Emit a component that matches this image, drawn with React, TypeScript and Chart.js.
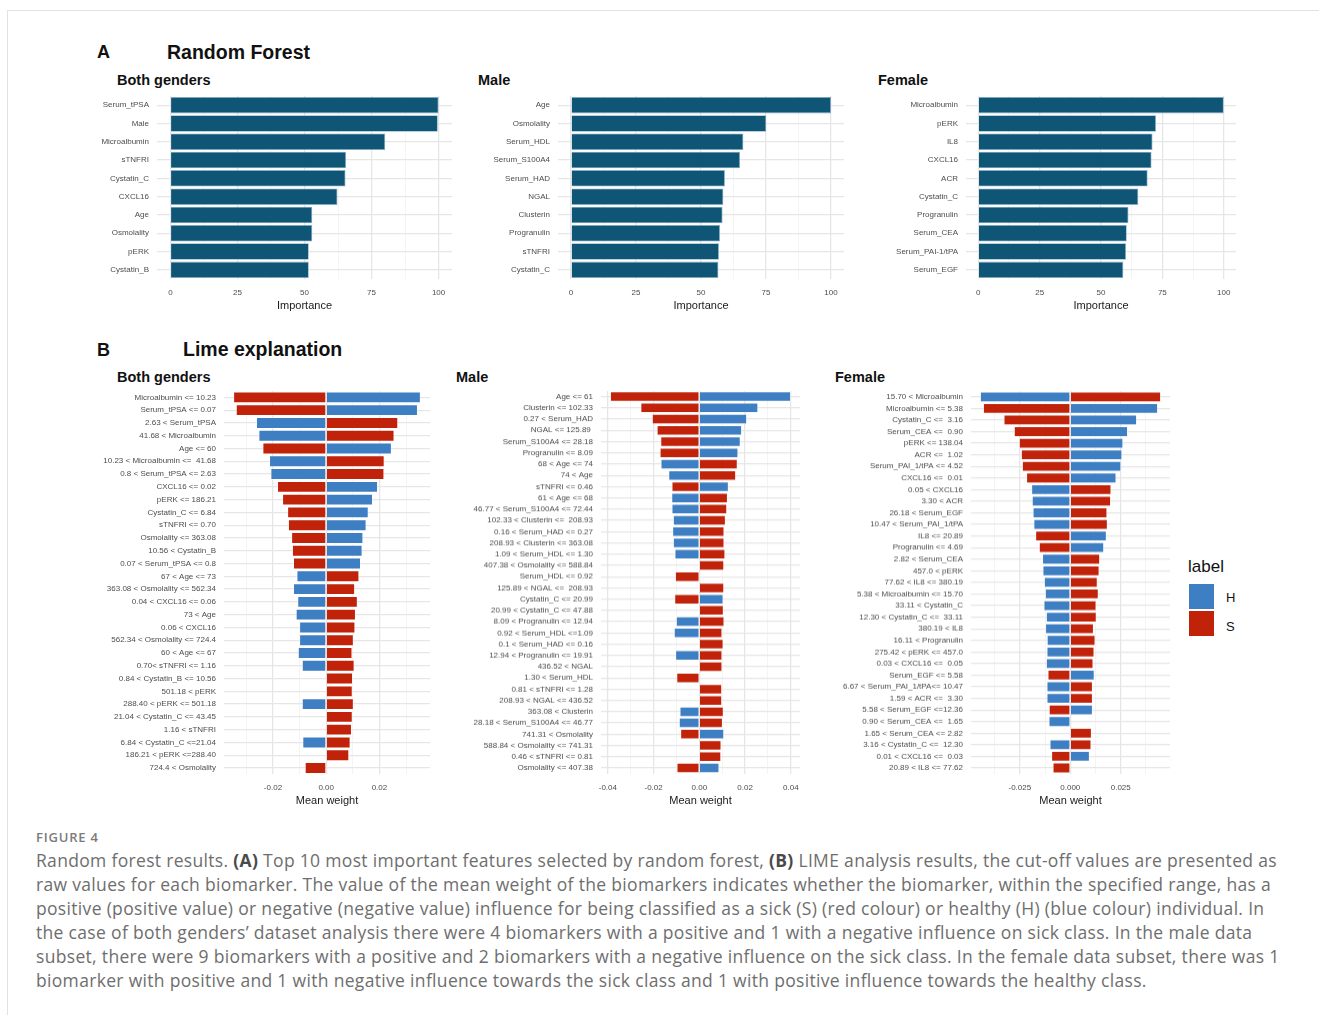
import React, { useEffect, useRef } from "react";
import { Chart, registerables } from "chart.js";

Chart.register(...registerables);

// ---------------- DATA ----------------
// Panel A: Random forest importance
const rfBothFeatures = ["Serum_tPSA", "Male", "Microalbumin", "sTNFRI", "Cystatin_C", "CXCL16", "Age", "Osmolality", "pERK", "Cystatin_B"];
const rfBothImportance = [100, 99.7, 80.1, 65.5, 65.3, 62.3, 52.9, 52.9, 51.6, 51.6];

const rfMaleFeatures = ["Age", "Osmolality", "Serum_HDL", "Serum_S100A4", "Serum_HAD", "NGAL", "Clusterin", "Progranulin", "sTNFRI", "Cystatin_C"];
const rfMaleImportance = [100, 75.1, 66.3, 65.0, 59.2, 58.6, 58.3, 57.3, 56.9, 56.7];

const rfFemaleFeatures = ["Microalbumin", "pERK", "IL8", "CXCL16", "ACR", "Cystatin_C", "Progranulin", "Serum_CEA", "Serum_PAI-1/tPA", "Serum_EGF"];
const rfFemaleImportance = [100, 72.4, 71.0, 70.6, 69.0, 65.2, 61.2, 60.5, 60.2, 59.1];

const rfMajorTicks = [0, 25, 50, 75, 100];
const rfMinorTicks = [12.5, 37.5, 62.5, 87.5];

// Panel B: LIME mean weights (H = healthy, S = sick)
const limeBothFeatures = [
  "Microalbumin <= 10.23", "Serum_tPSA <= 0.07", "2.63 < Serum_tPSA", "41.68 < Microalbumin", "Age <= 60",
  "10.23 < Microalbumin <=  41.68", "0.8 < Serum_tPSA <= 2.63", "CXCL16 <= 0.02", "pERK <= 186.21", "Cystatin_C <= 6.84",
  "sTNFRI <= 0.70", "Osmolality <= 363.08", "10.56 < Cystatin_B", "0.07 < Serum_tPSA <= 0.8", "67 < Age <= 73",
  "363.08 < Osmolality <= 562.34", "0.04 < CXCL16 <= 0.06", "73 < Age", "0.06 < CXCL16", "562.34 < Osmolality <= 724.4",
  "60 < Age <= 67", "0.70< sTNFRI <= 1.16", "0.84 < Cystatin_B <= 10.56", "501.18 < pERK", "288.40 < pERK <= 501.18",
  "21.04 < Cystatin_C <= 43.45", "1.16 < sTNFRI", "6.84 < Cystatin_C <=21.04", "186.21 < pERK <=288.40", "724.4 < Osmolality",
];
const limeBothH = [
  0.0355, 0.0344, -0.0263, -0.0254, 0.0246, -0.0214, -0.0209, 0.0194, 0.0175, 0.0159,
  0.0151, 0.0139, 0.0136, 0.013, -0.0111, -0.0124, -0.0108, -0.0114, -0.0101, -0.0101,
  -0.0106, -0.0091, null, null, -0.0091, null, null, -0.0089, null, null,
];
const limeBothS = [
  -0.0349, -0.0339, 0.027, 0.0256, -0.0239, 0.0219, 0.0218, -0.0184, -0.0165, -0.0146,
  -0.0143, -0.0131, -0.0128, -0.0124, 0.0124, 0.0108, 0.0118, 0.0111, 0.0109, 0.0103,
  0.0098, 0.0106, 0.01, 0.0099, 0.0103, 0.0099, 0.0096, 0.0091, 0.0086, -0.008,
];

const limeMaleFeatures = [
  "Age <= 61", "Clusterin <= 102.33", "0.27 < Serum_HAD", "NGAL <= 125.89 ", "Serum_S100A4 <= 28.18",
  "Progranulin <= 8.09", "68 < Age <= 74", "74 < Age", "sTNFRI <= 0.46", "61 < Age <= 68",
  "46.77 < Serum_S100A4 <= 72.44", "102.33 < Clusterin <=  208.93", "0.16 < Serum_HAD <= 0.27", "208.93 < Clusterin <= 363.08", "1.09 < Serum_HDL <= 1.30",
  "407.38 < Osmolality <= 588.84", "Serum_HDL <= 0.92", "125.89 < NGAL <=  208.93", "Cystatin_C <= 20.99", "20.99 < Cystatin_C <= 47.88",
  "8.09 < Progranulin <= 12.94", "0.92 < Serum_HDL <=1.09", "0.1 < Serum_HAD <= 0.16", "12.94 < Progranulin <= 19.91", "436.52 < NGAL",
  "1.30 < Serum_HDL", "0.81 < sTNFRI <= 1.28", "208.93 < NGAL <= 436.52", "363.08 < Clusterin", "28.18 < Serum_S100A4 <= 46.77",
  "741.31 < Osmolality", "588.84 < Osmolality <= 741.31", "0.46 < sTNFRI <= 0.81", "Osmolality <= 407.38",
];
const limeMaleH = [
  0.04, 0.0257, 0.0208, 0.0186, 0.018, 0.017, -0.0169, -0.0135, 0.0128, -0.0122,
  -0.0121, -0.0115, -0.0118, -0.0115, -0.0108, null, null, null, 0.0105, null,
  -0.0102, -0.0111, null, -0.0105, null, null, null, null, -0.0086, -0.0089,
  0.0108, null, null, 0.0087,
];
const limeMaleS = [
  -0.039, -0.0257, -0.0207, -0.0186, -0.017, -0.0173, 0.0167, 0.016, -0.0121, 0.0124,
  0.0121, 0.0115, 0.0109, 0.0109, 0.0113, 0.0108, -0.0106, 0.0108, -0.0109, 0.0106,
  0.0109, 0.01, 0.0105, 0.01, 0.01, -0.01, 0.0099, 0.0099, 0.0106, 0.0102,
  -0.0083, 0.0096, 0.0095, -0.0099,
];

const limeFemaleFeatures = [
  "15.70 < Microalbumin", "Microalbumin <= 5.38", "Cystatin_C <=  3.16", "Serum_CEA <=  0.90", "pERK <= 138.04",
  "ACR <=  1.02", "Serum_PAI_1/tPA <= 4.52", "CXCL16 <=  0.01", "0.05 < CXCL16", "3.30 < ACR",
  "26.18 < Serum_EGF", "10.47 < Serum_PAI_1/tPA", "IL8 <= 20.89", "Progranulin <= 4.69", "2.82 < Serum_CEA",
  "457.0 < pERK", "77.62 < IL8 <= 380.19", "5.38 < Microalbumin <= 15.70", "33.11 < Cystatin_C", "12.30 < Cystatin_C <=  33.11",
  "380.19 < IL8", "16.11 < Progranulin", "275.42 < pERK <= 457.0", "0.03 < CXCL16 <=  0.05", "Serum_EGF <= 5.58",
  "6.67 < Serum_PAI_1/tPA<= 10.47", "1.59 < ACR <=  3.30", "5.58 < Serum_EGF <=12.36", "0.90 < Serum_CEA <=  1.65", "1.65 < Serum_CEA <= 2.82",
  "3.16 < Cystatin_C <=  12.30", "0.01 < CXCL16 <=  0.03", "20.89 < IL8 <= 77.62",
];
const limeFemaleH = [
  -0.0447, 0.0434, 0.033, 0.0285, 0.0262, 0.0257, 0.0252, 0.0228, -0.0193, -0.019,
  -0.0186, -0.0182, 0.018, 0.0167, -0.0139, -0.0137, -0.013, -0.0125, -0.0132, -0.012,
  -0.0124, -0.0116, -0.0117, -0.012, 0.012, -0.0117, -0.0117, 0.0111, -0.0107, null,
  -0.0102, 0.0096, null,
];
const limeFemaleS = [
  0.0449, -0.0432, -0.033, -0.0279, -0.0254, -0.0244, -0.0239, -0.0218, 0.0203, 0.0201,
  0.0183, 0.0185, -0.0173, -0.0155, 0.0147, 0.0144, 0.0135, 0.014, 0.0129, 0.013,
  0.0116, 0.0124, 0.0119, 0.0114, -0.0112, 0.0111, 0.0111, -0.0106, null, 0.0106,
  0.0104, -0.0094, -0.0087,
];

const limeBothMajor = [-0.02, 0, 0.02];
const limeBothMinor = [-0.03, -0.01, 0.01, 0.03];
const limeMaleMajor = [-0.04, -0.02, 0, 0.02, 0.04];
const limeMaleMinor = [-0.03, -0.01, 0.01, 0.03];
const limeFemaleMajor = [-0.025, 0, 0.025];
const limeFemaleMinor = [-0.0375, -0.0125, 0.0125, 0.0375];

const captionLines = [
  "raw values for each biomarker. The value of the mean weight of the biomarkers indicates whether the biomarker, within the specified range, has a",
  "positive (positive value) or negative (negative value) influence for being classified as a sick (S) (red colour) or healthy (H) (blue colour) individual. In",
  "the case of both genders\u2019 dataset analysis there were 4 biomarkers with a positive and 1 with a negative influence on sick class. In the male data",
  "subset, there were 9 biomarkers with a positive and 2 biomarkers with a negative influence on the sick class. In the female data subset, there was 1",
  "biomarker with positive and 1 with negative influence towards the sick class and 1 with positive influence towards the healthy class.",
];

// ---------------- STYLE ----------------
const FONT = "'Liberation Sans', Arial, Helvetica, sans-serif";
const CAPTION_FONT = "'Open Sans', 'Noto Sans', sans-serif";
const RF_COLOR = "#0E5576";
const H_COLOR = "#3E7EC3";
const S_COLOR = "#C0220A";
const GRID_MAJOR = "#E6E6E6";
const GRID_MINOR = "#EFEFEF";
const TICK_COLOR = "#4D4D4D";

type TickDef = { v: number; label: string; major: boolean };

function makeTicks(major: number[], minor: number[], digits: number): TickDef[] {
  const all: TickDef[] = [
    ...major.map((v) => ({ v, label: v.toFixed(digits), major: true })),
    ...minor.map((v) => ({ v, label: "", major: false })),
  ];
  return all.sort((a, b) => a.v - b.v);
}

type Box = { x: number; y: number; w: number; h: number; yW: number; xH: number; pad: number };

function hbarConfig(p: {
  labels: string[];
  datasets: any[];
  min: number;
  max: number;
  ticks: TickDef[];
  title: string;
  box: Box;
  stacked: boolean;
}) {
  const t = p.ticks;
  return {
    type: "bar",
    data: { labels: p.labels, datasets: p.datasets },
    options: {
      indexAxis: "y",
      responsive: false,
      maintainAspectRatio: false,
      animation: false,
      devicePixelRatio: 1,
      layout: { padding: 0 },
      plugins: { legend: { display: false }, tooltip: { enabled: false } },
      scales: {
        x: {
          type: "linear",
          min: p.min,
          max: p.max,
          stacked: p.stacked,
          afterBuildTicks: (s: any) => {
            s.ticks = t.map((d) => ({ value: d.v }));
          },
          afterFit: (s: any) => {
            s.height = p.box.xH;
            s.paddingLeft = 0;
            s.paddingRight = 0;
          },
          ticks: {
            autoSkip: false,
            maxRotation: 0,
            minRotation: 0,
            padding: p.box.pad,
            color: TICK_COLOR,
            font: { family: FONT, size: 8 },
            callback: (_v: any, i: number) => (t[i] ? t[i].label : ""),
          },
          grid: {
            drawTicks: false,
            color: (c: any) => (t[c.index] && t[c.index].major ? GRID_MAJOR : GRID_MINOR),
            lineWidth: (c: any) => (t[c.index] && t[c.index].major ? 1.3 : 0.7),
          },
          border: { display: false },
          title: {
            display: true,
            text: p.title,
            color: "#1A1A1A",
            font: { family: FONT, size: 11 },
            padding: { top: 0, bottom: 0 },
          },
        },
        y: {
          type: "category",
          stacked: p.stacked,
          offset: true,
          afterFit: (s: any) => {
            s.width = p.box.yW;
            s.paddingTop = 0;
            s.paddingBottom = 0;
          },
          ticks: {
            autoSkip: false,
            padding: 8,
            color: TICK_COLOR,
            font: { family: FONT, size: 8 },
          },
          grid: { offset: false, drawTicks: false, color: GRID_MAJOR, lineWidth: 1.3 },
          border: { display: false },
        },
      },
    },
  };
}

function ChartBox({ box, config }: { box: Box; config: any }) {
  const ref = useRef<HTMLCanvasElement>(null);
  useEffect(() => {
    const chart = new Chart(ref.current as HTMLCanvasElement, config);
    return () => chart.destroy();
  }, []);
  return (
    <canvas
      ref={ref}
      width={box.w}
      height={box.h}
      style={{ position: "absolute", left: box.x, top: box.y, width: box.w, height: box.h }}
    />
  );
}

function rfChart(labels: string[], values: number[], box: Box) {
  return (
    <ChartBox
      box={box}
      config={hbarConfig({
        labels,
        datasets: [
          {
            data: values,
            backgroundColor: RF_COLOR,
            borderColor: "rgba(120,165,190,0.9)",
            borderWidth: 0.8,
            barPercentage: 0.9,
            categoryPercentage: 1,
          },
        ],
        min: -5,
        max: 105,
        ticks: makeTicks(rfMajorTicks, rfMinorTicks, 0),
        title: "Importance",
        box,
        stacked: false,
      })}
    />
  );
}

function limeChart(
  labels: string[],
  h: (number | null)[],
  s: (number | null)[],
  min: number,
  max: number,
  ticks: TickDef[],
  box: Box
) {
  const common = { barPercentage: 0.9, categoryPercentage: 1, borderWidth: 0.8, borderColor: "rgba(255,255,255,0.55)" };
  return (
    <ChartBox
      box={box}
      config={hbarConfig({
        labels,
        datasets: [
          { label: "H", data: h, backgroundColor: H_COLOR, ...common },
          { label: "S", data: s, backgroundColor: S_COLOR, ...common },
        ],
        min,
        max,
        ticks,
        title: "Mean weight",
        box,
        stacked: true,
      })}
    />
  );
}

const txt = (x: number, y: number, size: number, bold: boolean, extra: any = {}): any => ({
  position: "absolute",
  left: x,
  top: y,
  fontFamily: FONT,
  fontSize: size,
  fontWeight: bold ? 700 : 400,
  lineHeight: 1,
  whiteSpace: "nowrap",
  color: "#111",
  ...extra,
});

// lime panel boxes: chart area spans first row - band/2 to last row + band/2, axis bottom fixed
function limeBox(x: number, w: number, yW: number, n: number): Box {
  const first = 397;
  const last = 768;
  const band = (last - first) / (n - 1);
  const top = first - band / 2;
  const bottom = last + band / 2;
  const axisBottom = 808;
  return { x, y: top, w, h: axisBottom - top, yW, xH: axisBottom - bottom, pad: 782.5 - bottom };
}

export default function App() {
  const rfBox = (x: number, w: number, yW: number): Box => ({ x, y: 96, w, h: 217, yW, xH: 34, pad: 8.5 });
  return (
    <div
      style={{
        position: "absolute",
        left: 0,
        top: 0,
        width: 1319,
        height: 1015,
        overflow: "hidden",
        background: "#fff",
      }}
    >
      <div
        style={{
          position: "absolute",
          left: 7,
          top: 10,
          width: 1330,
          height: 1030,
          borderTop: "1px solid #E2E2E2",
          borderLeft: "1px solid #E2E2E2",
        }}
      />
      {/* Panel A headings */}
      <div style={txt(97, 43, 18, true)}>A</div>
      <div style={txt(167, 42.5, 19.5, true)}>Random Forest</div>
      <div style={txt(117, 73, 14.5, true)}>Both genders</div>
      <div style={txt(478, 73, 14.5, true)}>Male</div>
      <div style={txt(878, 73, 14.5, true)}>Female</div>

      {rfChart(rfBothFeatures, rfBothImportance, rfBox(20, 432, 137))}
      {rfChart(rfMaleFeatures, rfMaleImportance, rfBox(460, 384, 98))}
      {rfChart(rfFemaleFeatures, rfFemaleImportance, rfBox(860, 376, 106))}

      {/* Panel B headings */}
      <div style={txt(97, 341, 18, true)}>B</div>
      <div style={txt(183, 339.5, 19.5, true)}>Lime explanation</div>
      <div style={txt(117, 370, 14.5, true)}>Both genders</div>
      <div style={txt(456, 370, 14.5, true)}>Male</div>
      <div style={txt(835, 370, 14.5, true)}>Female</div>

      {limeChart(limeBothFeatures, limeBothH, limeBothS, -0.0384, 0.039, makeTicks(limeBothMajor, limeBothMinor, 2),
        limeBox(90, 340, 134, limeBothFeatures.length))}
      {limeChart(limeMaleFeatures, limeMaleH, limeMaleS, -0.043, 0.044, makeTicks(limeMaleMajor, limeMaleMinor, 2),
        limeBox(440, 360, 161, limeMaleFeatures.length))}
      {limeChart(limeFemaleFeatures, limeFemaleH, limeFemaleS, -0.0492, 0.0494, makeTicks(limeFemaleMajor, limeFemaleMinor, 3),
        limeBox(820, 350, 151, limeFemaleFeatures.length))}

      {/* Legend */}
      <div style={txt(1188, 558, 17, false)}>label</div>
      <div style={{ position: "absolute", left: 1189, top: 584, width: 25, height: 25, background: H_COLOR }} />
      <div style={{ position: "absolute", left: 1189, top: 611, width: 25, height: 25, background: S_COLOR }} />
      <div style={txt(1226, 590.5, 13, false)}>H</div>
      <div style={txt(1226, 619.5, 13, false)}>S</div>

      {/* Caption */}
      <div
        style={{
          position: "absolute",
          left: 36,
          top: 830.5,
          fontFamily: CAPTION_FONT,
          fontSize: 13,
          fontWeight: 600,
          letterSpacing: 0.8,
          color: "#7A7A7A",
          lineHeight: 1,
          whiteSpace: "nowrap",
        }}
      >
        FIGURE 4
      </div>
      <div
        style={{
          position: "absolute",
          left: 36,
          top: 847.5,
          fontFamily: CAPTION_FONT,
          fontSize: 17.5,
          letterSpacing: 0.32,
          lineHeight: "24px",
          color: "#6E6E6E",
          whiteSpace: "nowrap",
        }}
      >
        <div>
          Random forest results. <b style={{ color: "#4A4A4A" }}>(A)</b> Top 10 most important features selected by random
          forest, <b style={{ color: "#4A4A4A" }}>(B)</b> LIME analysis results, the cut-off values are presented as
        </div>
        {captionLines.map((l, i) => (
          <div key={i}>{l}</div>
        ))}
      </div>
    </div>
  );
}
